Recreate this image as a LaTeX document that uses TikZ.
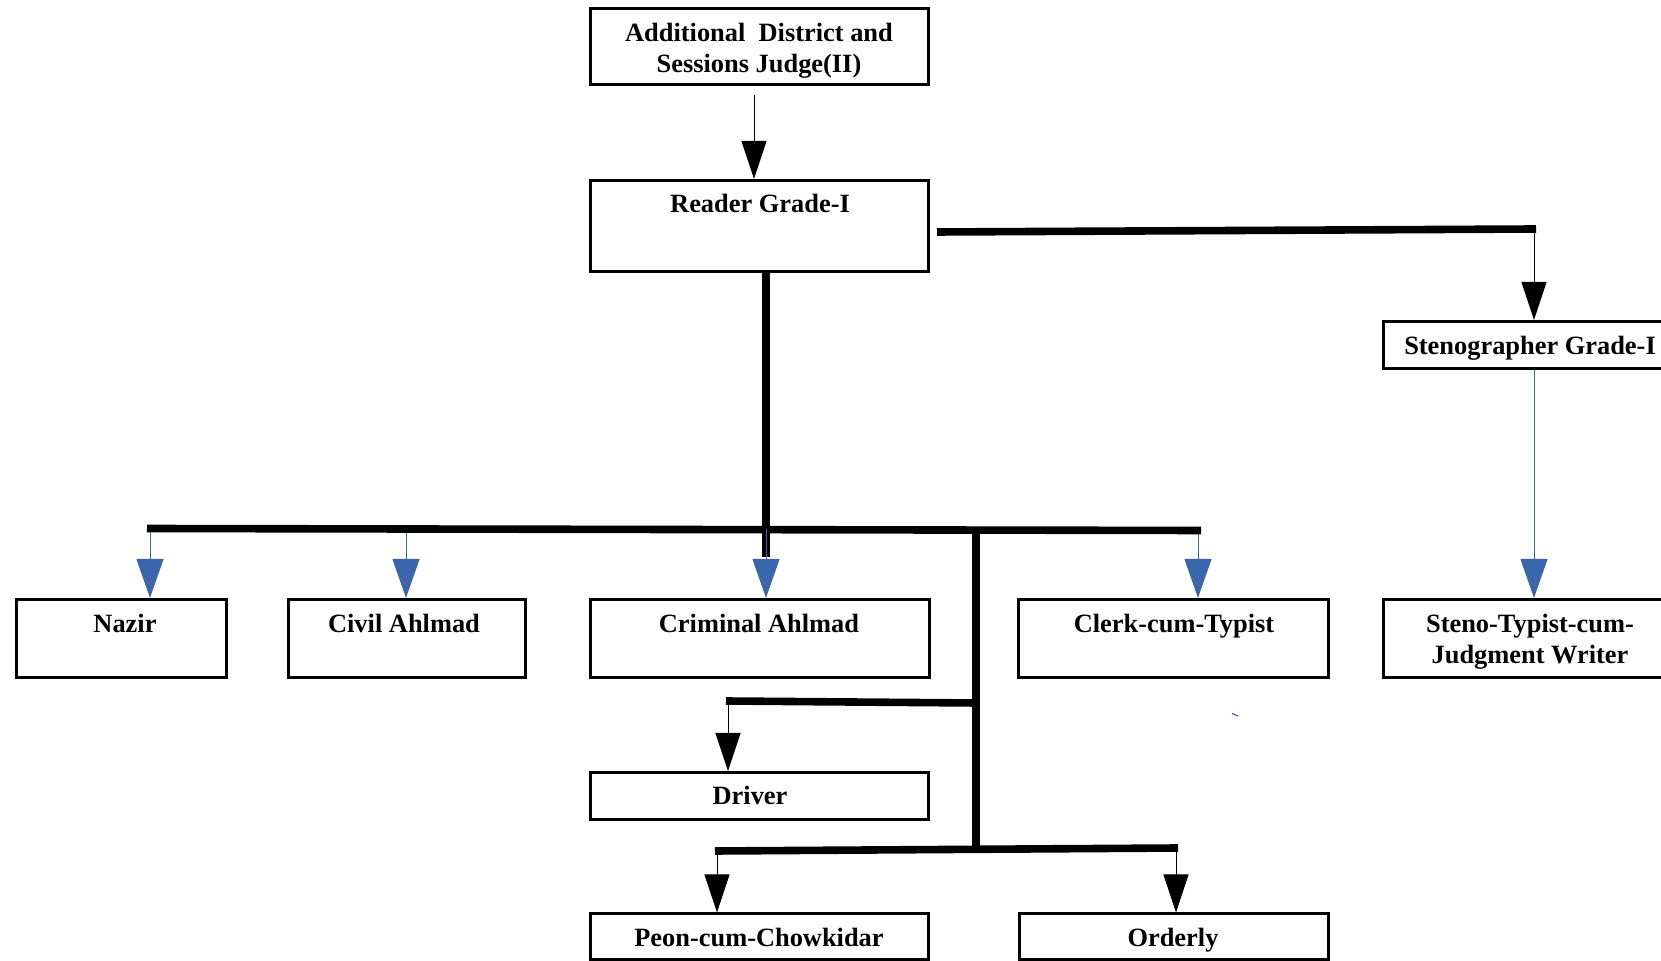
\documentclass[tikz,border=0pt]{standalone}
\usepackage{fontspec}
\setmainfont{Liberation Serif}
\usetikzlibrary{arrows.meta,calc}
\definecolor{arrblue}{RGB}{58,103,171}
\tikzset{
  box/.style={draw=black, line width=1.5pt, rectangle, inner sep=0pt},
  lbl/.style={anchor=base, inner sep=0pt, font=\fontsize{13.2}{16}\selectfont\bfseries},
  busline/.style={line width=3.8pt, line cap=butt},
  blackarr/.style={draw=black, line width=0.5pt, -{Triangle[length=19pt,width=12.5pt]}},
  bluearr/.style={draw=arrblue, line width=0.5pt, -{Triangle[length=19.5pt,width=13.5pt]}, arrblue},
}
\begin{document}
\begin{tikzpicture}[x=0.5pt,y=-0.5pt]
\useasboundingbox (0,0) rectangle (1661,961);
% boxes
\node[box, minimum width=169pt, minimum height=38pt] (top) at (759.5,46.5) {};
\node[box, minimum width=169pt, minimum height=45.5pt] (reader) at (759.5,226) {};
\node[box, minimum width=150.5pt, minimum height=23.5pt] (steno) at (1534,345) {};
\node[box, minimum width=105pt, minimum height=39pt] (nazir) at (121.5,638.5) {};
\node[box, minimum width=118.5pt, minimum height=39pt] (civil) at (407,638.5) {};
\node[box, minimum width=169.5pt, minimum height=39pt] (criminal) at (760,638.5) {};
\node[box, minimum width=155pt, minimum height=39pt] (clerk) at (1173.5,638.5) {};
\node[box, minimum width=150.5pt, minimum height=39pt] (stenotyp) at (1534,638.5) {};
\node[box, minimum width=169pt, minimum height=23.5pt] (driver) at (759.5,796) {};
\node[box, minimum width=169pt, minimum height=23pt] (peon) at (759.5,937) {};
\node[box, minimum width=154.5pt, minimum height=23pt] (orderly) at (1174,937) {};
% labels
\node[lbl] (ttop1) at (759,42) {Additional\ \ District and};
\node[lbl] (ttop2) at (759,72.5) {Sessions Judge(II)};
\node[lbl] (treader) at (760,213) {Reader Grade-I};
\node[lbl] (tsteno) at (1530,355) {Stenographer Grade-I};
\node[lbl] (tnazir) at (125,633) {Nazir};
\node[lbl] (tcivil) at (404,633) {Civil Ahlmad};
\node[lbl] (tcriminal) at (759,633) {Criminal Ahlmad};
\node[lbl] (tclerk) at (1174,633) {Clerk-cum-Typist};
\node[lbl] (tst1) at (1530,633) {Steno-Typist-cum-};
\node[lbl] (tst2) at (1530,664) {Judgment Writer};
\node[lbl] (tdriver) at (750,805) {Driver};
\node[lbl] (tpeon) at (759,947) {Peon-cum-Chowkidar};
\node[lbl] (torderly) at (1173,947) {Orderly};
% junction coordinates
\coordinate (a0) at (754,95);
\coordinate (r0) at (937,232);
\coordinate (r1) at (1534,229);
\coordinate (v0) at (766,273);
\coordinate (v1) at (766,557);
\coordinate (b0) at (150,528.5);
\coordinate (b1) at (406,529);
\coordinate (b2) at (766,529.5);
\coordinate (b3) at (976,530);
\coordinate (b4) at (1198,530.5);
\coordinate (d0) at (728,701);
\coordinate (d1) at (976,703);
\coordinate (p0) at (717,851);
\coordinate (p1) at (976,850);
\coordinate (p2) at (1176,848);
% thin connectors
\draw[blackarr] (a0) -- (a0 |- reader.north);
\draw[blackarr] (r1) -- (steno.north);
\draw[bluearr] (steno.south) -- (stenotyp.north);
\draw[bluearr] (b0) -- (b0 |- nazir.north);
\draw[bluearr] (b1) -- (b1 |- civil.north);
\draw[bluearr] (b4) -- (b4 |- clerk.north);
\draw[blackarr] (d0) -- (d0 |- driver.north);
\draw[blackarr] (p0) -- (p0 |- peon.north);
\draw[blackarr] (p2) -- (p2 |- orderly.north);
% thick lines
\draw[busline] (r0) -- ($(r1)+(2,0)$);
\draw[busline] (v0) -- (v1);
\draw[busline] ($(b0)+(-3,0)$) -- ($(b4)+(3,0)$);
\draw[busline] (b3) -- (p1);
\draw[busline] ($(d0)+(-2,0)$) -- (d1);
\draw[busline] ($(p0)+(-2,0)$) -- ($(p2)+(2,0)$);
\draw[bluearr] (b2) -- (b2 |- criminal.north);
% stray mark
\coordinate (m0) at (1232,713.5);
\coordinate (m1) at (1238,716);
\draw[arrblue, line width=0.6pt] (m0) -- (m1);
\end{tikzpicture}
\end{document}
